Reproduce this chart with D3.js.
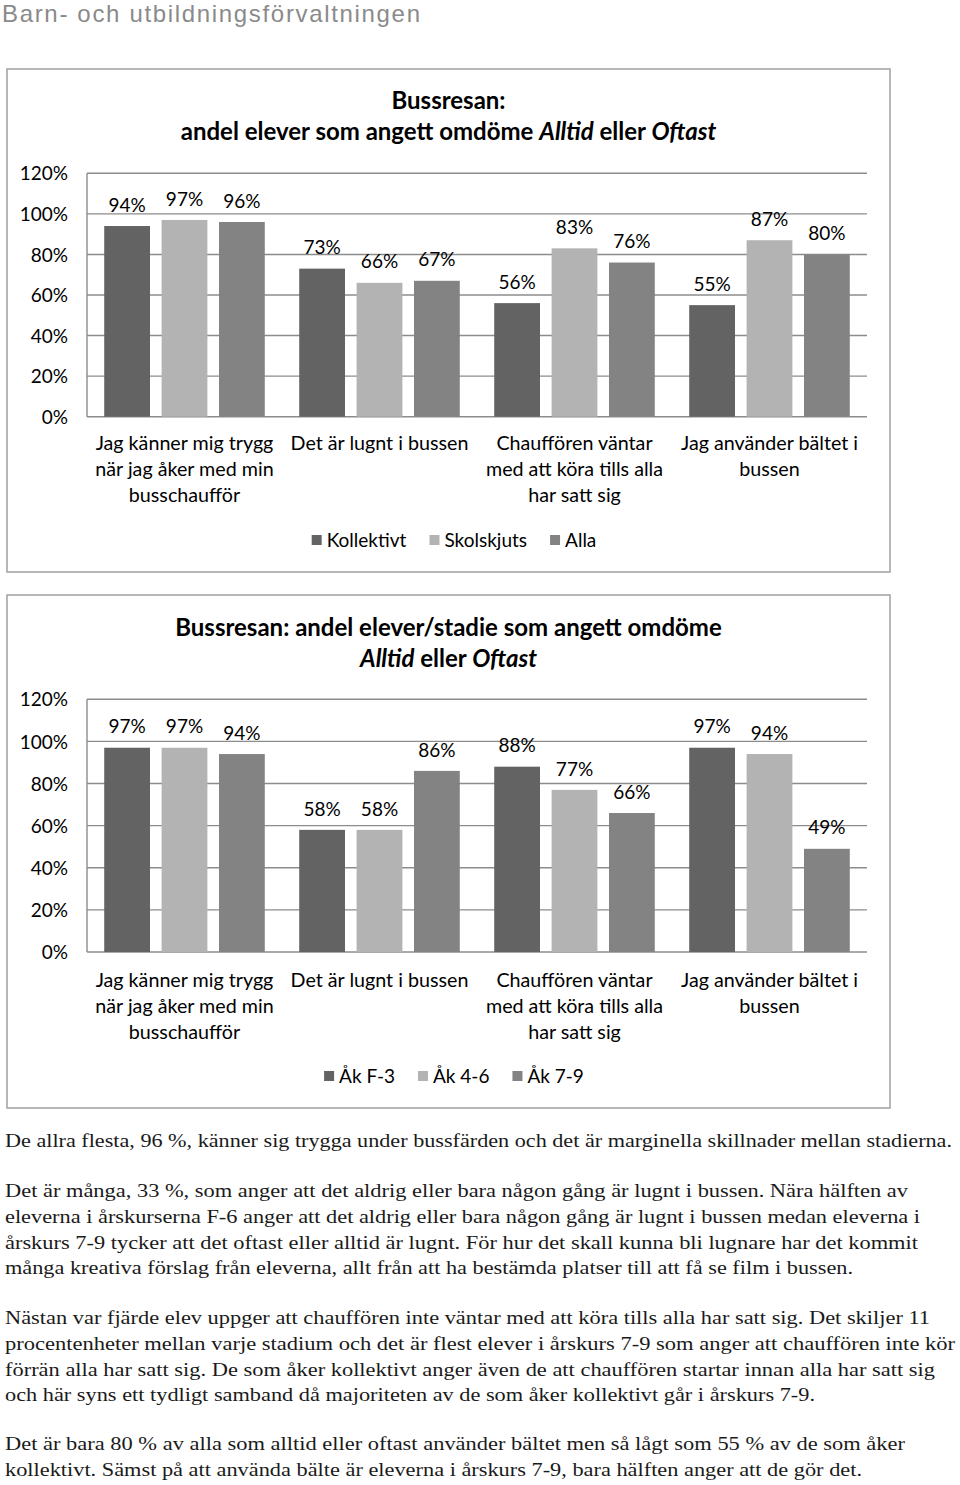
<!DOCTYPE html>
<html><head><meta charset="utf-8">
<script src="https://cdn.jsdelivr.net/npm/d3@7"></script>
<style>
html,body{margin:0;padding:0;background:#fff;}
svg{display:block;}
</style></head>
<body>
<svg id="c" width="960" height="1485"></svg>
<script>
// ---------- data ----------
const categories = [
  ["Jag känner mig trygg", "när jag åker med min", "busschaufför"],
  ["Det är lugnt i bussen"],
  ["Chauffören väntar", "med att köra tills alla", "har satt sig"],
  ["Jag använder bältet i", "bussen"]
];
const categoryKeys = ["trygg", "lugnt", "vantar", "baltet"];
const yTicks = [0, 0.2, 0.4, 0.6, 0.8, 1.0, 1.2];

const series1Names = ["Kollektivt", "Skolskjuts", "Alla"];
const kollektivt = [0.94, 0.73, 0.56, 0.55];
const skolskjuts = [0.97, 0.66, 0.83, 0.87];
const alla = [0.96, 0.67, 0.76, 0.80];

const series2Names = ["Åk F-3", "Åk 4-6", "Åk 7-9"];
const akF3 = [0.97, 0.58, 0.88, 0.97];
const ak46 = [0.97, 0.58, 0.77, 0.94];
const ak79 = [0.94, 0.86, 0.66, 0.49];

const seriesColors = ["#636363", "#b3b3b3", "#838383"];

const paragraphs = [
  ["De allra flesta, 96 %, känner sig trygga under bussfärden och det är marginella skillnader mellan stadierna."],
  ["Det är många, 33 %, som anger att det aldrig eller bara någon gång är lugnt i bussen. Nära hälften av",
   "eleverna i årskurserna F-6 anger att det aldrig eller bara någon gång är lugnt i bussen medan eleverna i",
   "årskurs 7-9 tycker att det oftast eller alltid är lugnt. För hur det skall kunna bli lugnare har det kommit",
   "många kreativa förslag från eleverna, allt från att ha bestämda platser till att få se film i bussen."],
  ["Nästan var fjärde elev uppger att chauffören inte väntar med att köra tills alla har satt sig. Det skiljer 11",
   "procentenheter mellan varje stadium och det är flest elever i årskurs 7-9 som anger att chauffören inte kör",
   "förrän alla har satt sig. De som åker kollektivt anger även de att chauffören startar innan alla har satt sig",
   "och här syns ett tydligt samband då majoriteten av de som åker kollektivt går i årskurs 7-9."],
  ["Det är bara 80 % av alla som alltid eller oftast använder bältet men så lågt som 55 % av de som åker",
   "kollektivt. Sämst på att använda bälte är eleverna i årskurs 7-9, bara hälften anger att de gör det."]
];
const paraLineWidths = [[947], [903, 915, 913, 848], [925, 950, 930, 810], [900, 857]];

// ---------- drawing ----------
const svg = d3.select("#c");
const FONT = "Lato, 'Open Sans', sans-serif";

svg.append("text").attr("x", 2).attr("y", 22)
  .attr("font-family", "'Liberation Sans', Arial, sans-serif").attr("font-size", 24)
  .attr("fill", "#8a8a8a")
  .attr("textLength", 418).attr("lengthAdjust", "spacing")
  .text("Barn- och utbildningsförvaltningen");

function drawChart(cfg) {
  const g = svg.append("g");
  g.append("rect").attr("x", cfg.box[0]).attr("y", cfg.box[1])
    .attr("width", cfg.box[2]).attr("height", cfg.box[3])
    .attr("fill", "#fff").attr("stroke", "#a0a0a0").attr("stroke-width", 1.5);

  // title
  cfg.title.forEach((parts, i) => {
    const t = g.append("text").attr("x", 448.5).attr("y", cfg.titleY[i])
      .attr("text-anchor", "middle").attr("font-family", FONT)
      .attr("font-weight", "bold").attr("font-size", 24).attr("fill", "#000");
    parts.forEach(p => t.append("tspan").attr("font-style", p.i ? "italic" : "normal").text(p.t));
  });

  const y = d3.scaleLinear().domain([0, 1.2]).range([cfg.plot.bottom, cfg.plot.top]);
  const x0 = d3.scaleBand().domain(categoryKeys).range([cfg.plot.left, cfg.plot.right]).padding(0);
  const x1 = d3.scaleBand().domain(cfg.names).range([0, x0.bandwidth()])
    .paddingInner(0.2025).paddingOuter(0.30);

  // gridlines
  g.append("g").selectAll("line").data(yTicks).join("line")
    .attr("x1", cfg.plot.left).attr("x2", cfg.plot.right)
    .attr("y1", d => y(d)).attr("y2", d => y(d))
    .attr("stroke", "#8c8c8c").attr("stroke-width", 1.4);
  g.append("line").attr("x1", cfg.plot.left).attr("x2", cfg.plot.left)
    .attr("y1", y(1.2)).attr("y2", y(0)).attr("stroke", "#8c8c8c").attr("stroke-width", 1.4);

  // y axis labels
  const yAxis = d3.axisLeft(y).tickValues(yTicks).tickSize(0).tickPadding(0)
    .tickFormat(d => Math.round(d * 100) + "%");
  const ya = g.append("g").attr("transform", `translate(${cfg.plot.left - 19},0)`).call(yAxis);
  ya.select(".domain").remove();
  ya.selectAll("text").attr("font-family", FONT).attr("font-size", 19).attr("fill", "#000")
    .attr("dy", "0.35em");

  // bars
  const data = cfg.series.map((vals, si) => vals.map((v, ci) => ({ s: cfg.names[si], si, c: categoryKeys[ci], v })));
  const flat = data.flat();
  g.append("g").selectAll("rect").data(flat).join("rect")
    .attr("x", d => x0(d.c) + x1(d.s)).attr("width", x1.bandwidth())
    .attr("y", d => y(d.v)).attr("height", d => y(0) - y(d.v))
    .attr("fill", d => seriesColors[d.si]);
  g.append("g").selectAll("text").data(flat).join("text")
    .attr("x", d => x0(d.c) + x1(d.s) + x1.bandwidth() / 2)
    .attr("y", d => y(d.v) - 21).attr("dy", "0.35em")
    .attr("text-anchor", "middle").attr("font-family", FONT).attr("font-size", 19)
    .attr("fill", "#000").text(d => Math.round(d.v * 100) + "%");

  // category labels
  categories.forEach((lines, ci) => {
    lines.forEach((ln, li) => {
      g.append("text").attr("x", x0(categoryKeys[ci]) + x0.bandwidth() / 2)
        .attr("y", cfg.catY + li * 26).attr("dy", "0.35em")
        .attr("text-anchor", "middle").attr("font-family", FONT).attr("font-size", 19.7)
        .attr("fill", "#000").text(ln);
    });
  });

  // legend
  const lg = g.append("g");
  const items = lg.selectAll("g").data(cfg.names).join("g");
  items.append("rect").attr("width", 10).attr("height", 10).attr("y", -5)
    .attr("fill", (d, i) => seriesColors[i]);
  items.append("text").attr("x", 15).attr("dy", "0.35em").attr("font-family", FONT)
    .attr("font-size", 19).attr("fill", "#000").text(d => d);
  let cx = 0;
  items.each(function () {
    const w = this.getBBox().width;
    d3.select(this).attr("transform", `translate(${cx},0)`);
    cx += w + 23;
  });
  const total = cx - 23;
  lg.attr("transform", `translate(${cfg.legendCx - total / 2},${cfg.legendY})`);
}

drawChart({
  box: [7, 69, 883, 503],
  title: [[{ t: "Bussresan:" }],
          [{ t: "andel elever som angett omdöme " }, { t: "Alltid", i: true }, { t: " eller " }, { t: "Oftast", i: true }]],
  titleY: [109, 140],
  plot: { left: 87, right: 867, top: 173.3, bottom: 416.7 },
  names: series1Names,
  series: [kollektivt, skolskjuts, alla],
  catY: 443,
  legendY: 540,
  legendCx: 454
});

drawChart({
  box: [7, 595, 883, 513],
  title: [[{ t: "Bussresan: andel elever/stadie som angett omdöme" }],
          [{ t: "Alltid", i: true }, { t: " eller " }, { t: "Oftast", i: true }]],
  titleY: [636, 667],
  plot: { left: 87, right: 867, top: 699.3, bottom: 952 },
  names: series2Names,
  series: [akF3, ak46, ak79],
  catY: 980,
  legendY: 1076,
  legendCx: 454
});

// paragraphs
const paraStartY = [1147, 1197, 1324, 1450];
paragraphs.forEach((lines, pi) => {
  lines.forEach((ln, li) => {
    svg.append("text").attr("x", 5).attr("y", paraStartY[pi] + li * 25.8)
      .attr("font-family", "'Liberation Serif', 'Times New Roman', serif").attr("font-size", 18.5)
      .attr("fill", "#1a1a1a")
      .attr("textLength", paraLineWidths[pi][li]).attr("lengthAdjust", "spacingAndGlyphs")
      .text(ln);
  });
});
</script>
</body></html>
